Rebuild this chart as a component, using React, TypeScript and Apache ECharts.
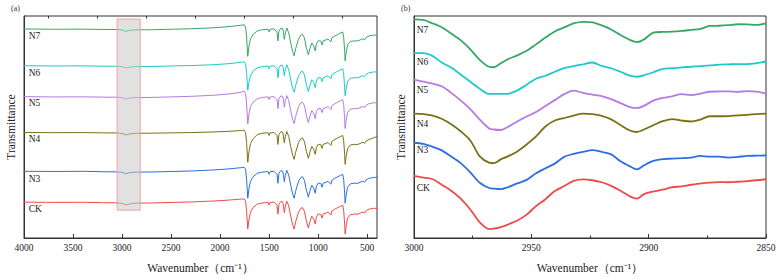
import React, { useEffect, useRef } from "react";
import * as echarts from "echarts";

const seriesNames = ["CK", "N3", "N4", "N5", "N6", "N7"];
const seriesColors = ["#ef4a4a", "#2b6fe0", "#7a7014", "#b57ae3", "#1fc9c9", "#36a866"];

// Panel (a): full spectrum, wavenumber (cm-1)
const fullWavenumbers = [
  4000, 3700, 3400, 3200, 3050, 3000, 2960, 2930, 2900, 2850,
  2700, 2500, 2300, 2100, 1950, 1850, 1780, 1755, 1740, 1730,
  1718, 1705, 1690, 1660, 1620, 1580, 1540, 1510, 1500, 1490,
  1450, 1420, 1410, 1400, 1380, 1360, 1345, 1335, 1320, 1300,
  1280, 1260, 1245, 1230, 1200, 1175, 1160, 1140, 1120, 1100,
  1085, 1065, 1045, 1030, 1018, 1000, 975, 960, 950, 920,
  900, 880, 870, 860, 830, 800, 770, 750, 740, 730,
  725, 715, 700, 670, 630, 595, 560, 540, 527, 510,
  480, 450, 425, 410, 400,
];

const fullN7 = [
  210, 209.7, 209.8, 209.5, 209.4, 209, 207.6, 208.4, 208.8, 209.1,
  209.2, 209.7, 210.2, 211, 212, 213, 213.8, 214.3, 212, 202,
  182.5, 193, 200, 205, 208, 209, 209.5, 209.7, 207, 209.7,
  210, 207, 198, 208, 210.8, 210, 199.5, 206, 211, 206,
  196, 187, 183, 190, 200, 204, 204.5, 201, 191, 184,
  190, 196, 193, 188, 195, 198, 198, 194, 198, 199,
  200, 198, 197, 201, 203, 204.5, 206, 207, 202, 188,
  178, 186, 194, 197.5, 198, 198, 199.5, 200, 199, 201.5,
  203, 203.5, 204, 203.5, 204,
];
const fullN6 = [
  173, 172.8, 172.9, 172.6, 172.5, 172.1, 170.8, 171.5, 171.9, 172.2,
  172.3, 172.8, 173.2, 173.9, 174.8, 175.8, 176.6, 177, 175, 166,
  148.5, 157, 163, 168, 171, 172, 172.5, 172.7, 170, 172.6,
  173, 170, 161, 171, 173.8, 173, 163, 169, 174, 169,
  159, 150, 146.5, 153, 163, 167, 167.5, 164, 154, 147,
  153, 159, 156, 151, 158, 161, 161, 157, 161, 162,
  163, 161, 160, 164, 166, 167.5, 169, 170, 165, 151,
  143, 150, 157, 160.5, 161, 161, 162.5, 163, 162, 164.5,
  166, 166.5, 167, 166.5, 167,
];
const fullN5 = [
  142, 141.7, 141.8, 141.5, 141.4, 141, 139.5, 140.3, 140.8, 141.1,
  141.2, 141.7, 142.3, 143.2, 144.3, 145.4, 146.6, 147.5, 145, 135,
  114.5, 125, 132, 137, 140, 141, 141.5, 141.7, 139, 141.7,
  142, 139, 130, 140, 142.8, 142, 131.5, 138, 143, 138,
  128, 119, 115, 122, 132, 136, 136.5, 133, 123, 116,
  122, 128, 125, 120, 127, 130, 130, 126, 130, 131,
  132, 130, 129, 133, 135, 136.5, 138, 139, 134, 120,
  110, 118, 126, 129.5, 130, 130, 131.5, 132, 131, 133.5,
  135, 135.5, 136, 135.5, 136,
];
const fullN4 = [
  106, 105.8, 105.9, 105.6, 105.5, 105, 103.5, 104.4, 104.9, 105.2,
  105.3, 105.6, 105.9, 106.4, 107, 107.5, 108, 108.3, 106, 96,
  76, 87, 95, 100, 104, 105, 105.5, 105.7, 103, 105.6,
  106, 103, 94, 104, 106.8, 106, 95.5, 102, 107, 102,
  92, 83, 79, 86, 96, 100, 100.5, 97, 87, 80,
  86, 92, 89, 84, 91, 94, 94, 90, 94, 95,
  96, 94, 93, 97, 99, 100.5, 102, 103, 98, 84,
  74, 82, 90, 93.5, 94, 94, 95.5, 96, 95, 97.5,
  99, 100, 101, 101.5, 102.5,
];
const fullN3 = [
  67, 66.8, 67, 66.6, 66.4, 66, 64.6, 65.4, 65.9, 66.2,
  66.3, 66.8, 67.3, 68.2, 69.1, 70, 70.7, 71, 69, 59,
  40, 50, 57, 62, 65, 66, 66.5, 66.7, 64, 66.6,
  67, 64, 55, 65, 67.8, 67, 56.5, 63, 68, 63,
  53, 44, 40, 47, 57, 61, 61.5, 58, 48, 41,
  47, 53, 50, 45, 52, 55, 55, 51, 55, 56,
  57, 55, 54, 58, 60, 61.5, 63, 64, 59, 45,
  35, 43, 51, 54.5, 55, 55, 56.5, 57, 56, 58.5,
  60, 60.5, 61, 60.5, 62,
];
const fullCK = [
  36, 35.8, 35.9, 35.5, 35.3, 34.8, 33.2, 34, 34.6, 35,
  35.2, 35.7, 36.2, 37, 37.8, 38.6, 39.1, 39.3, 37, 27,
  9, 19, 26, 31, 34, 35, 35.5, 35.7, 33, 35.6,
  36, 33, 24, 34, 36.8, 36, 25.5, 32, 37, 32,
  22, 13, 9, 16, 26, 30, 30.5, 27, 17, 10,
  16, 22, 19, 14, 21, 24, 24, 20, 24, 25,
  26, 24, 23, 27, 29, 30.5, 32, 33, 28, 14,
  4, 12, 20, 23.5, 24, 24, 25.5, 26, 25, 27.5,
  29, 29.5, 30, 29.5, 29.5,
];

// Panel (b): 3000-2850 cm-1 detail
const zoomWavenumbers = [
  3000, 2996, 2992, 2988, 2984, 2980, 2976, 2972, 2968, 2966,
  2963, 2960, 2956, 2952, 2948, 2944, 2940, 2936, 2932, 2928,
  2924, 2920, 2916, 2912, 2908, 2905, 2902, 2898, 2894, 2890,
  2886, 2882, 2878, 2874, 2870, 2866, 2862, 2858, 2854, 2850,
];
const zoomN7 = [
  219.7, 219, 215.5, 211.5, 205.2, 198.5, 189.5, 179, 172, 171.5,
  175.5, 179.5, 183.5, 188, 194.5, 201.3, 207.5, 211.5, 215.5, 217,
  216.5, 213.5, 209.5, 204, 199, 196.7, 199.5, 206.3, 207, 207.3,
  208, 209, 210, 213, 213.2, 213.8, 214.7, 214.5, 214, 215.7,
];
const zoomN6 = [
  185.7, 185.7, 182.7, 176, 171, 164, 157, 150, 144.7, 144.7,
  144.7, 144.8, 148.2, 154, 160, 163, 167, 170.7, 172.7, 174.5,
  176.3, 172.8, 170.5, 167, 163, 162, 163.5, 166.5, 170, 170.5,
  171.4, 172, 172.7, 173.3, 174.2, 174.5, 174.7, 174.7, 175.7, 177.3,
];
const zoomN5 = [
  159, 157, 155, 152.2, 145.5, 138, 129.5, 119, 110, 109,
  108.5, 111.5, 117, 122, 126.5, 132.5, 138.5, 144.5, 148, 145.7,
  144, 142.5, 139.5, 135.5, 131.5, 130.5, 132.7, 138, 140.7, 142.3,
  144.5, 143.6, 145, 146.9, 147.2, 147.3, 146.8, 147.5, 147, 145,
];
const zoomN4 = [
  125, 124.5, 123, 119.5, 114, 107, 98, 82, 75.7, 75.2,
  79, 82, 87, 94, 102, 112, 118, 120.5, 123, 125,
  124.5, 122.7, 119.2, 113.5, 108, 106.5, 109, 113.3, 117.3, 119.5,
  118, 117, 119, 122.3, 122.3, 122.5, 123.2, 123.7, 124.4, 125,
];
const zoomN3 = [
  95.7, 94.5, 91.5, 87.8, 81.5, 75, 66, 55.5, 50.2, 49.5,
  49, 51, 54.8, 58.4, 65, 70, 74.7, 81.5, 84.5, 86.5,
  88.2, 86.5, 84, 77, 72, 69, 73, 77.5, 79.3, 79.7,
  80.2, 80.8, 82.4, 81.7, 81.7, 80.8, 81.5, 82.4, 82.7, 83,
];
const zoomCK = [
  62.3, 60.7, 59, 53.2, 47.2, 39.2, 28.6, 15.7, 9, 9.4,
  11, 13.5, 17.5, 23.5, 32, 39, 47.2, 52.2, 57.3, 58.8,
  58, 56, 52.4, 47.5, 41.8, 39.5, 44, 46.7, 48.5, 51,
  51.8, 53.5, 54.7, 55.7, 56.1, 56, 56.5, 57.2, 58, 59,
];

const fullTicks = [4000, 3500, 3000, 2500, 2000, 1500, 1000, 500];
const fullMinorTicks = [3750, 3250, 2750, 2250, 1750, 1250, 750];
// highlighted region in panel (a): [wavenumber from, wavenumber to, lower, upper]
const highlightRegion = [3050, 2815, 28, 220];

const fullSeries = [fullCK, fullN3, fullN4, fullN5, fullN6, fullN7];
const zoomSeries = [zoomCK, zoomN3, zoomN4, zoomN5, zoomN6, zoomN7];

const FONT = "Liberation Serif";
const labelOffsetsA = [[5, 2.5], [5, 2.5], [5, 2], [5, 2], [5, 2], [5, 2]];
const labelOffsetsB = [[3, 7.5], [3, 3], [3, 5.5], [3, 5.5], [3, 4], [3, 5.5]];

function buildData(xs: number[], ys: number[], name: string, offset: number[]) {
  return xs.map((x, i) => {
    if (i === 0) {
      return {
        value: [x, ys[i]],
        symbol: "circle",
        symbolSize: 0.5,
        label: {
          show: true,
          formatter: name,
          position: offset,
          fontFamily: FONT,
          fontSize: 9.5,
          color: "#222",
        },
      };
    }
    return { value: [x, ys[i]] };
  });
}

export default function App() {
  const ref = useRef<HTMLDivElement>(null);
  useEffect(() => {
    if (!ref.current) return;
    const chart = echarts.init(ref.current, undefined, { renderer: "svg" });
    const axisLineStyle = { color: "#333", width: 1 };
    const tickLabel = {
      fontFamily: FONT,
      fontSize: 9.5,
      color: "#222",
      margin: 5,
      formatter: (v: number) => String(v),
    };
    const nameStyle = { fontFamily: FONT, fontSize: 11.5, color: "#222" };

    const series: any[] = [];
    seriesNames.forEach((name, k) => {
      series.push({
        type: "line",
        name,
        xAxisIndex: 0,
        yAxisIndex: 0,
        data: buildData(fullWavenumbers, fullSeries[k], name, labelOffsetsA[k]),
        symbol: "none",
        showSymbol: true,
        showAllSymbol: true,
        clip: false,
        silent: true,
        z: 3,
        lineStyle: { width: 1, color: seriesColors[k] },
        itemStyle: { color: seriesColors[k] },
      });
      series.push({
        type: "line",
        name: name + "-b",
        xAxisIndex: 2,
        yAxisIndex: 1,
        data: buildData(zoomWavenumbers, zoomSeries[k], name, labelOffsetsB[k]),
        symbol: "none",
        showSymbol: true,
        showAllSymbol: true,
        clip: false,
        silent: true,
        smooth: 0.3,
        z: 3,
        lineStyle: { width: 1.8, color: seriesColors[k] },
        itemStyle: { color: seriesColors[k] },
      });
    });
    series.push({
      type: "custom",
      name: "highlight",
      xAxisIndex: 0,
      yAxisIndex: 0,
      z: 10,
      silent: true,
      data: [highlightRegion],
      encode: { x: [0, 1], y: [2, 3] },
      renderItem: (params: any, api: any) => {
        const p1 = api.coord([api.value(0), api.value(3)]);
        const p2 = api.coord([api.value(1), api.value(2)]);
        return {
          type: "rect",
          shape: { x: p1[0], y: p1[1], width: p2[0] - p1[0], height: p2[1] - p1[1] },
          style: { fill: "rgba(200,200,200,0.55)", stroke: "#f2a0a0", lineWidth: 1 },
        };
      },
    });

    chart.setOption({
      animation: false,
      title: [
        { text: "(a)", left: 11, top: 4, padding: 0, textStyle: { fontFamily: FONT, fontSize: 8, fontWeight: "normal", color: "#333" } },
        { text: "(b)", left: 401, top: 4, padding: 0, textStyle: { fontFamily: FONT, fontSize: 8, fontWeight: "normal", color: "#333" } },
      ],
      grid: [
        { left: 24, right: 403, top: 16, bottom: 40, show: true, borderColor: "#333", borderWidth: 1 },
        { left: 414, right: 14, top: 16, bottom: 40, show: true, borderColor: "#333", borderWidth: 1 },
      ],
      xAxis: [
        {
          type: "value",
          gridIndex: 0,
          min: 400,
          max: 4000,
          inverse: true,
          name: "Wavenumber（cm⁻¹）",
          nameLocation: "middle",
          nameGap: 24,
          nameTextStyle: nameStyle,
          axisLine: { show: true, lineStyle: axisLineStyle },
          axisTick: { show: true, inside: true, length: 4, customValues: fullTicks, lineStyle: axisLineStyle },
          axisLabel: { ...tickLabel, customValues: fullTicks },
          splitLine: { show: false },
        },
        {
          type: "value",
          gridIndex: 0,
          min: 400,
          max: 4000,
          inverse: true,
          axisLine: { show: false },
          axisTick: { show: true, inside: true, length: 2.5, customValues: fullMinorTicks, lineStyle: axisLineStyle },
          axisLabel: { show: false },
          splitLine: { show: false },
        },
        {
          type: "value",
          gridIndex: 1,
          min: 2850,
          max: 3000,
          interval: 50,
          inverse: true,
          name: "Wavenumber（cm⁻¹）",
          nameLocation: "middle",
          nameGap: 24,
          nameTextStyle: nameStyle,
          axisLine: { show: true, lineStyle: axisLineStyle },
          axisTick: { show: true, inside: true, length: 4, lineStyle: axisLineStyle },
          minorTick: { show: true, splitNumber: 2, length: 2.5, lineStyle: axisLineStyle },
          axisLabel: tickLabel,
          splitLine: { show: false },
        },
      ],
      yAxis: [
        {
          type: "value",
          gridIndex: 0,
          min: 0,
          max: 223,
          name: "Transmittance",
          nameLocation: "middle",
          nameGap: 7,
          nameTextStyle: nameStyle,
          axisLine: { show: true, lineStyle: axisLineStyle },
          axisTick: { show: false },
          axisLabel: { show: false },
          splitLine: { show: false },
        },
        {
          type: "value",
          gridIndex: 1,
          min: 0,
          max: 223,
          name: "Transmittance",
          nameLocation: "middle",
          nameGap: 7,
          nameTextStyle: nameStyle,
          axisLine: { show: true, lineStyle: axisLineStyle },
          axisTick: { show: false },
          axisLabel: { show: false },
          splitLine: { show: false },
        },
      ],
      series,
    });
    return () => chart.dispose();
  }, []);
  return (
    <div
      ref={ref}
      style={{ position: "fixed", left: 0, top: 0, width: 780, height: 279, background: "#fff" }}
    />
  );
}
